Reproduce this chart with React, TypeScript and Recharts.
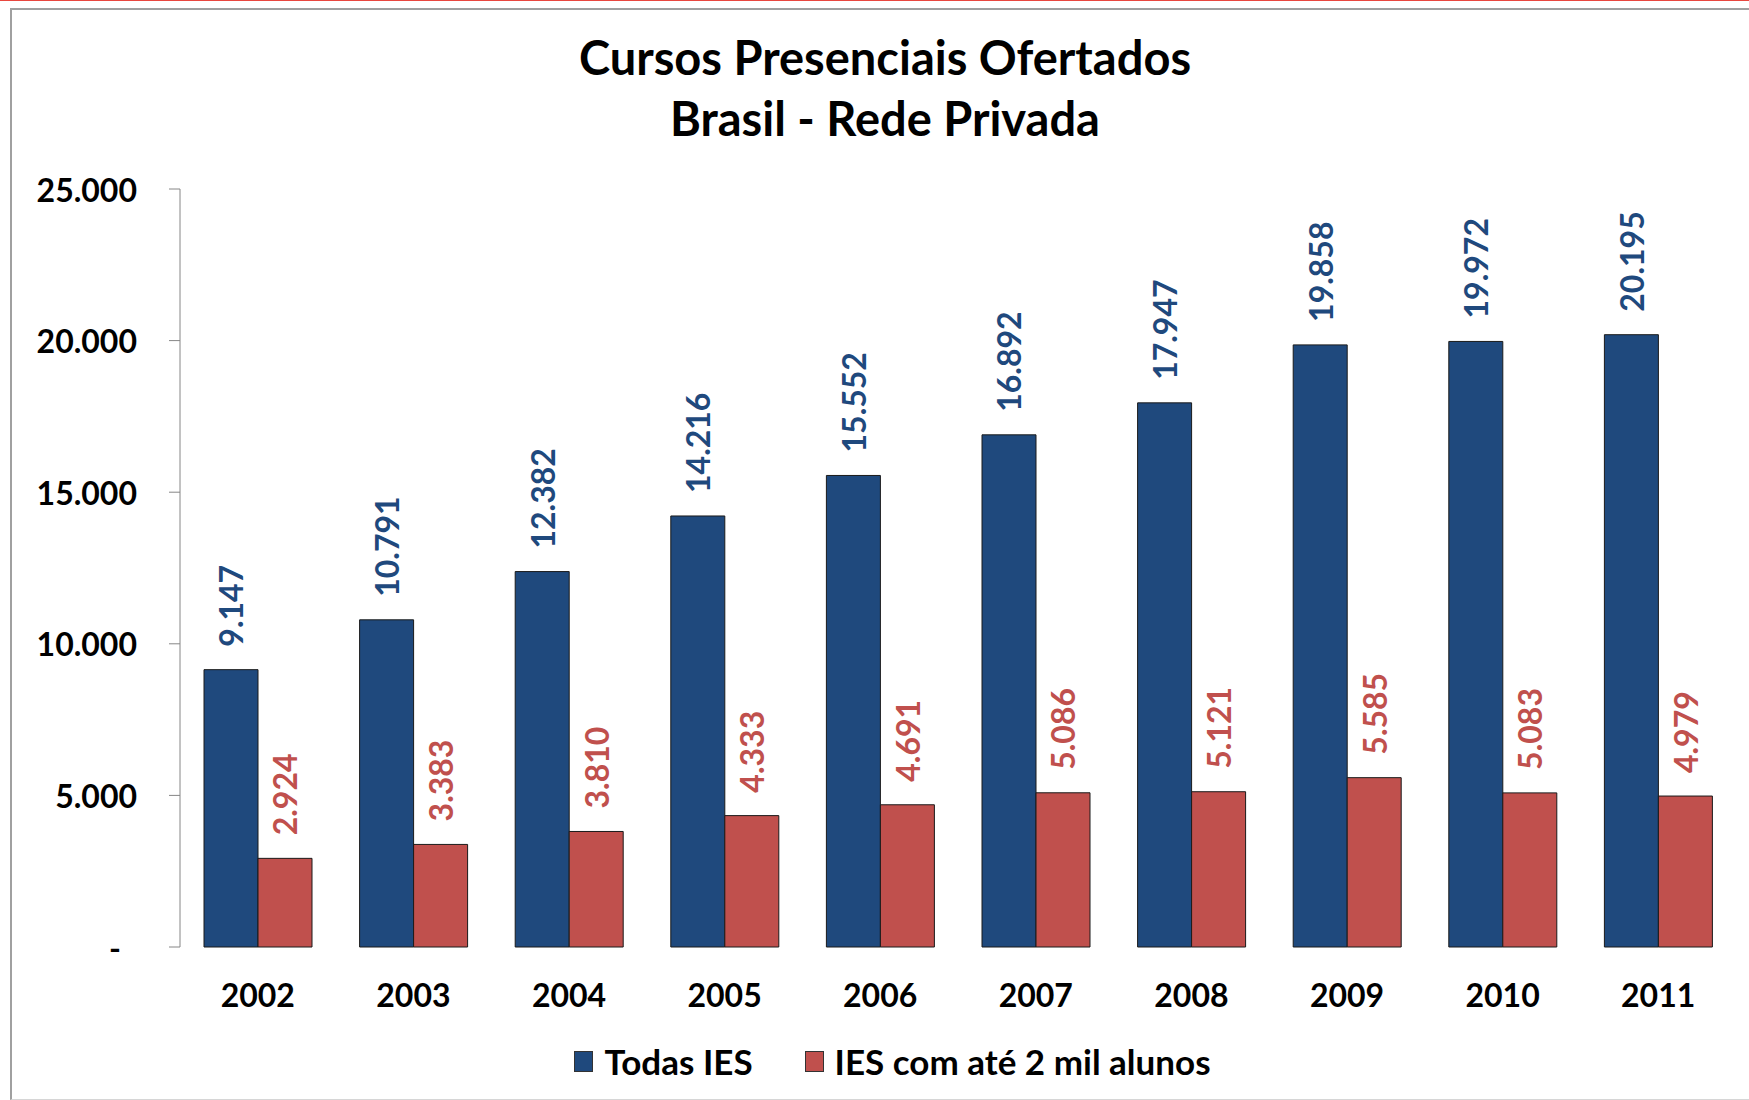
import React from 'react';
import { BarChart, Bar, XAxis, YAxis, Legend, LabelList } from 'recharts';

const years = ['2002', '2003', '2004', '2005', '2006', '2007', '2008', '2009', '2010', '2011'];
const todasIES = [9147, 10791, 12382, 14216, 15552, 16892, 17947, 19858, 19972, 20195];
const iesAte2Mil = [2924, 3383, 3810, 4333, 4691, 5086, 5121, 5585, 5083, 4979];
const yTicks = [0, 5000, 10000, 15000, 20000, 25000];
const seriesNames = ['Todas IES', 'IES com até 2 mil alunos'];
const seriesColors = ['#1F497D', '#C0504D'];
const titleLines = ['Cursos Presenciais Ofertados', 'Brasil - Rede Privada'];

const data = years.map((year, i) => ({ year, todas: todasIES[i], ate2mil: iesAte2Mil[i] }));
const boundaryTicks = [...years.map((_, i) => i), years.length];

const FONT = 'Lato, "Open Sans", sans-serif';
const AXIS_GRAY = '#868686';

const fmt = (v: number) => (v === 0 ? '-' : String(v).replace(/\B(?=(\d{3})+(?!\d))/g, '.'));

const YTick = (props: any) => {
  const { x, y, payload } = props;
  const v = payload.value as number;
  return (
    <text
      x={v === 0 ? x - 16 : x}
      y={y}
      textAnchor="end"
      dominantBaseline="central"
      fontFamily={FONT}
      fontWeight={700}
      fontSize={32}
      fill="#000"
    >
      {fmt(v)}
    </text>
  );
};

const makeLabel = (color: string) => (props: any) => {
  const { x, y, width, value } = props;
  const cx = x + width / 2;
  const ty = y - 23;
  return (
    <text
      x={cx}
      y={ty}
      transform={`rotate(-90, ${cx}, ${ty})`}
      textAnchor="start"
      dominantBaseline="central"
      fontFamily={FONT}
      fontWeight={700}
      fontSize={32}
      fill={color}
    >
      {fmt(value)}
    </text>
  );
};

const LegendContent = () => (
  <div
    style={{
      display: 'flex',
      justifyContent: 'center',
      alignItems: 'center',
      fontFamily: FONT,
      fontWeight: 700,
      fontSize: 35,
      color: '#000',
      height: 40,
    }}
  >
    {seriesNames.map((name, i) => (
      <div key={name} style={{ display: 'flex', alignItems: 'center', marginRight: i === 0 ? 52 : 0 }}>
        <span
          style={{
            display: 'inline-block',
            width: 19,
            height: 21,
            background: seriesColors[i],
            border: '1px solid #333',
            boxSizing: 'border-box',
            marginRight: 11,
          }}
        />
        <span>{name}</span>
      </div>
    ))}
  </div>
);

export default function App() {
  return (
    <div
      style={{
        position: 'absolute',
        left: 0,
        top: 0,
        width: 1749,
        height: 1100,
        overflow: 'hidden',
        background: '#fff',
      }}
    >
      <div style={{ position: 'absolute', left: 0, top: 0, width: 1749, height: 1, background: '#e8473f' }} />
      <div
        style={{
          position: 'absolute',
          left: 10,
          top: 8,
          width: 1800,
          height: 1089,
          borderLeft: '2px solid #a0a0a0',
          borderTop: '2px solid #a0a0a0',
          borderBottom: '1px solid #d6d6d6',
        }}
      />
      <div
        style={{
          position: 'absolute',
          left: 0,
          top: 27,
          width: 1770,
          textAlign: 'center',
          fontFamily: FONT,
          fontWeight: 700,
          fontSize: 47,
          lineHeight: '61px',
          color: '#000',
        }}
      >
        {titleLines.map((t) => (
          <div key={t}>{t}</div>
        ))}
      </div>
      <div style={{ position: 'absolute', left: 0, top: 0 }}>
        <BarChart
          width={1749}
          height={1100}
          data={data}
          margin={{ top: 189, right: 13, bottom: 93, left: 0 }}
          barGap={0}
          barSize={54}
          style={{ fontFamily: FONT }}
        >
          <XAxis
            xAxisId="tick"
            type="number"
            domain={[0, years.length]}
            ticks={boundaryTicks}
            tick={false}
            tickSize={13}
            height={0}
            stroke={AXIS_GRAY}
            allowDataOverflow
          />
          <XAxis
            xAxisId="cat"
            dataKey="year"
            tickLine={false}
            axisLine={false}
            tickSize={0}
            tickMargin={37}
            height={60}
            interval={0}
            tick={{ fill: '#000', fontSize: 32, fontWeight: 700, fontFamily: FONT }}
          />
          <YAxis
            width={180}
            domain={[0, 25000]}
            ticks={yTicks}
            interval={0}
            tickSize={11}
            tickMargin={32}
            stroke={AXIS_GRAY}
            tick={<YTick />}
          />
          <Legend
            layout="horizontal"
            verticalAlign="middle"
            align="center"
            wrapperStyle={{ top: 1041, left: 18, width: 1749, height: 40 }}
            content={() => <LegendContent />}
          />
          <Bar
            xAxisId="cat"
            dataKey="todas"
            name={seriesNames[0]}
            fill={seriesColors[0]}
            stroke="#1a1a1a"
            strokeWidth={1}
            isAnimationActive={false}
          >
            <LabelList dataKey="todas" content={makeLabel(seriesColors[0])} />
          </Bar>
          <Bar
            xAxisId="cat"
            dataKey="ate2mil"
            name={seriesNames[1]}
            fill={seriesColors[1]}
            stroke="#1a1a1a"
            strokeWidth={1}
            isAnimationActive={false}
          >
            <LabelList dataKey="ate2mil" content={makeLabel(seriesColors[1])} />
          </Bar>
        </BarChart>
      </div>
    </div>
  );
}
